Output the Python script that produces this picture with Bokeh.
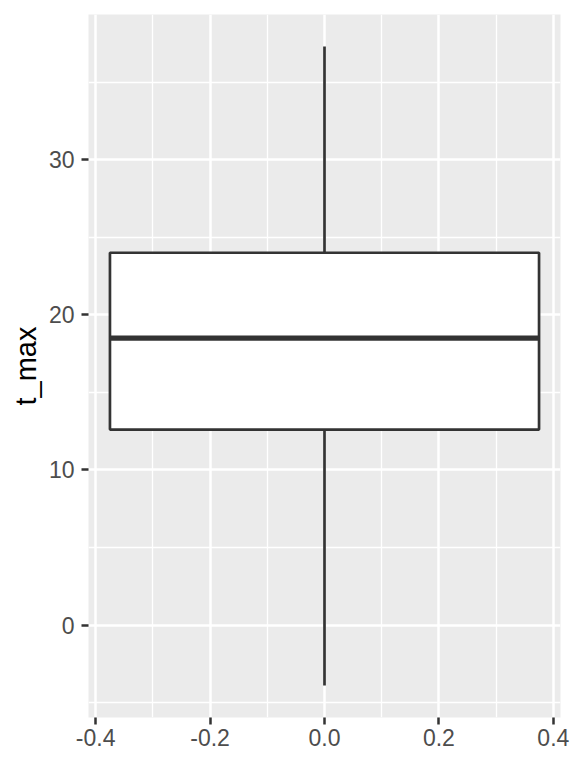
from bokeh.plotting import figure
from bokeh.models import FixedTicker, PrintfTickFormatter, Range1d
from bokeh.embed import file_html
from bokeh.resources import INLINE

# Box statistics for t_max
whisker_low = -3.9
q1 = 12.6
median = 18.5
q3 = 24.0
whisker_high = 37.3
box_left = -0.375
box_right = 0.375
x_center = 0.0

y_ticks = [0, 10, 20, 30]
y_minor = [-5, 5, 15, 25, 35]
x_ticks = [-0.4, -0.2, 0.0, 0.2, 0.4]
x_minor = [-0.3, -0.1, 0.1, 0.3]

span = whisker_high - whisker_low
y0 = whisker_low - 0.05 * span
y1 = whisker_high + 0.05 * span
xw = box_right - box_left
x0 = box_left - 0.05 * xw
x1 = box_right + 0.05 * xw

p = figure(width=576, height=768, output_backend="svg", toolbar_location=None,
           x_range=Range1d(x0, x1), y_range=Range1d(y0, y1))
p.min_border_left = 88
p.min_border_right = 16
p.min_border_top = 14
p.min_border_bottom = 51
p.outline_line_color = None
p.background_fill_color = "#EBEBEB"
p.border_fill_color = "white"

# whiskers
p.segment(x0=[x_center, x_center], y0=[whisker_low, q3], x1=[x_center, x_center],
          y1=[q1, whisker_high], line_color="#333333", line_width=2.7)
# box
p.quad(left=[box_left], right=[box_right], bottom=[q1], top=[q3],
       fill_color="white", line_color="#333333", line_width=2.7)
# median
p.segment(x0=[box_left], y0=[median], x1=[box_right], y1=[median],
          line_color="#333333", line_width=5.4)

for ax, ticks, minor in [(p.xaxis[0], x_ticks, x_minor), (p.yaxis[0], y_ticks, y_minor)]:
    ax.ticker = FixedTicker(ticks=ticks, minor_ticks=minor)
    ax.axis_line_color = None
    ax.major_tick_line_color = "#333333"
    ax.major_tick_line_width = 2.5
    ax.major_tick_in = 0
    ax.major_tick_out = 7
    ax.minor_tick_line_color = None
    ax.major_label_text_font = "Liberation Sans"
    ax.major_label_text_font_size = "23px"
    ax.major_label_text_color = "#4D4D4D"

p.xaxis[0].major_label_standoff = 4
p.yaxis[0].major_label_standoff = 7
p.xaxis[0].formatter = PrintfTickFormatter(format="%.1f")
p.yaxis[0].axis_label = "t_max"
p.yaxis[0].axis_label_text_font = "Liberation Sans"
p.yaxis[0].axis_label_text_font_size = "29px"
p.yaxis[0].axis_label_text_font_style = "normal"
p.yaxis[0].axis_label_text_color = "black"
p.yaxis[0].axis_label_standoff = 4

for g in (p.xgrid[0], p.ygrid[0]):
    g.grid_line_color = "white"
    g.grid_line_width = 2.5
    g.minor_grid_line_color = "white"
    g.minor_grid_line_width = 1.3

open("out.html", "w").write(file_html(p, INLINE))
